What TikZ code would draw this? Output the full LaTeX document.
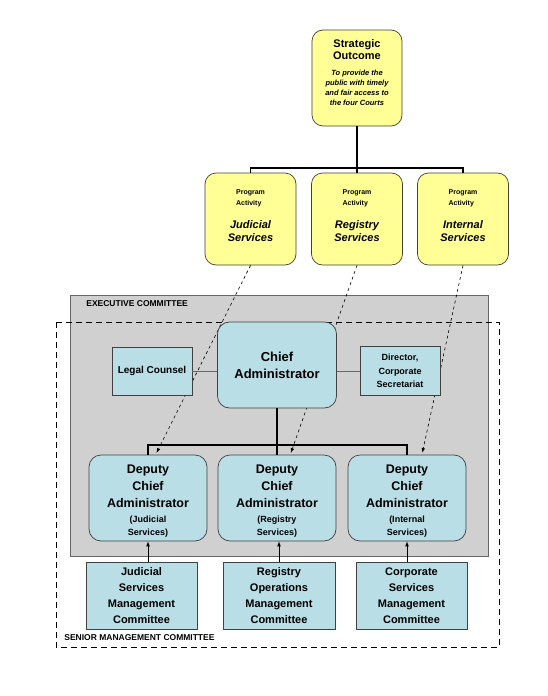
\documentclass[tikz,border=0pt]{standalone}
\usepackage{fontspec}
\setmainfont{Liberation Sans}
\usetikzlibrary{arrows}
\usetikzlibrary{shapes}

\definecolor{outyellow}{RGB}{255,255,150}
\definecolor{boxcyan}{RGB}{186,222,230}
\definecolor{execgrey}{RGB}{208,208,208}

\newcommand{\progact}[1]{{\fontsize{7}{11}\selectfont\begin{tabular}{@{}l@{}}Program\\Activity\end{tabular}}\\[11pt]\itshape #1\\\itshape Services\\[-4pt]\mbox{}}
\newcommand{\deputy}[1]{\mbox{}\\[-2pt]Deputy\\Chief\\Administrator\\[-2pt]{\fontsize{9}{13}\selectfont (#1}\\[-4pt]{\fontsize{9}{13}\selectfont Services)}}

\begin{document}
\begin{tikzpicture}[x=1pt, y=-1pt,
  every node/.style={draw=black!75, line width=0.7pt, align=center, inner sep=1pt, font=\bfseries},
  outcome/.style={fill=outyellow, rounded corners=11pt},
  office/.style={fill=boxcyan, rounded corners=12pt, minimum width=118, minimum height=86, font=\bfseries\fontsize{12.5}{17}\selectfont},
  unit/.style={fill=boxcyan, minimum height=67},
  tag/.style={draw=none, anchor=west, inner sep=0pt, font=\bfseries\fontsize{8.5}{10}\selectfont},
  tree/.style={line width=1.6pt},
  link/.style={draw=black!60, line width=1pt},
  duty/.style={->, >=latex, dashed, line width=0.6pt, shorten >=2pt},
  feed/.style={->, >=latex, line width=0.7pt}]
\fill[white] (0,0) rectangle (548,696);
\useasboundingbox (0,0) rectangle (548,696);

\draw[fill=execgrey, draw=black!60, line width=0.8pt] (70,295) rectangle (488,556);
\draw[line width=0.9pt, dash pattern=on 6pt off 4pt] (56,322) rectangle (499,647);
\node[tag] (exl) at (86,304) {EXECUTIVE COMMITTEE};
\node[tag] (sml) at (64,638) {SENIOR MANAGEMENT COMMITTEE};

\node[outcome, minimum width=90, minimum height=96, font=\bfseries\itshape\fontsize{7.5}{10}\selectfont] (so) at (357,78) {{\upshape\fontsize{11}{13}\selectfont Strategic}\\[1pt]{\upshape\fontsize{11}{13}\selectfont Outcome}\\[6pt]To provide the\\public with timely\\and fair access to\\the four Courts\\\mbox{}};
\node[outcome, minimum width=91, minimum height=92, font=\bfseries\fontsize{11}{13}\selectfont] (paj) at (250.5,219) {\progact{Judicial}};
\node[outcome, minimum width=91, minimum height=92, font=\bfseries\fontsize{11}{13}\selectfont] (par) at (357,219) {\progact{Registry}};
\node[outcome, minimum width=91, minimum height=92, font=\bfseries\fontsize{11}{13}\selectfont] (pai) at (463,219) {\progact{Internal}};

\node[office] (dj) at (148,498) {\deputy{Judicial}};
\node[office] (dr) at (277,498) {\deputy{Registry}};
\node[office] (di) at (407,498) {\deputy{Internal}};

\node[unit, minimum width=111, font=\bfseries\fontsize{11}{16}\selectfont] (jsm) at (141.5,595.5) {Judicial\\Services\\Management\\Committee};
\node[unit, minimum width=112, font=\bfseries\fontsize{11}{16}\selectfont] (rom) at (279,595.5) {Registry\\Operations\\Management\\Committee};
\node[unit, minimum width=111, font=\bfseries\fontsize{11}{16}\selectfont] (csm) at (411.5,595.5) {Corporate\\Services\\Management\\Committee};

\draw[duty] (paj.south) -- (dj.80);
\draw[duty] (par.south) -- (dr.73);
\draw[duty] (pai.south) -- (di.71);

\node[office, minimum width=119, font=\bfseries\fontsize{13}{17}\selectfont] (ca) at (277,365) {Chief\\Administrator};
\node[unit, minimum width=80, minimum height=48, font=\bfseries\fontsize{10}{13}\selectfont] (lc) at (152,371) {Legal Counsel};
\node[unit, minimum width=80, minimum height=49, font=\bfseries\fontsize{9}{13.5}\selectfont] (dcs) at (400,371) {Director,\\Corporate\\Secretariat};

\coordinate (pbar) at (357,168);
\coordinate (dbar) at (277,445);
\draw[tree] (so) -- (par);
\draw[tree] (paj.north) |- (pbar) -| (pai.north);
\draw[tree] (ca) -- (dr);
\draw[tree] (dj.north) |- (dbar) -| (di.north);

\draw[link] (lc) -- (lc -| ca.west);
\draw[link] (ca.east |- dcs) -- (dcs);

\draw[feed] (jsm.north -| dj) -- (dj);
\draw[feed] (rom) -- (rom |- dr.south);
\draw[feed] (csm.north -| di) -- (di);
\end{tikzpicture}
\end{document}
